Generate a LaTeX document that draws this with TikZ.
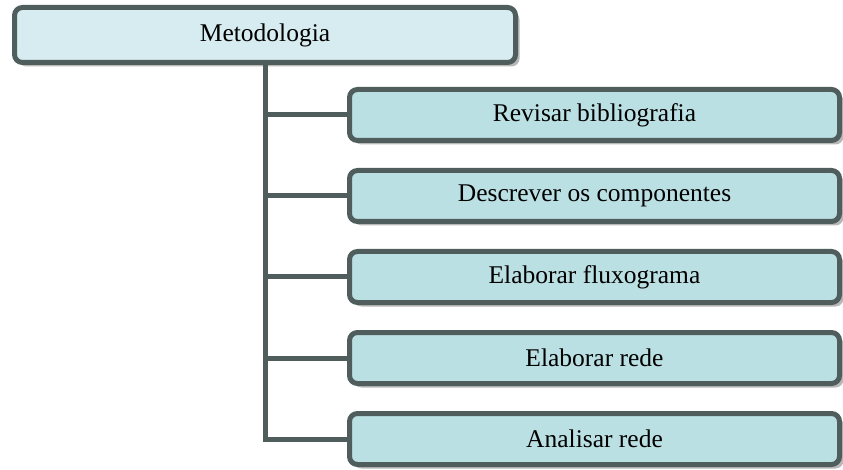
\documentclass[tikz,border=0pt]{standalone}
\usepackage{fontspec}
\setmainfont{Liberation Serif}
\usetikzlibrary{shadows}
\definecolor{bordc}{HTML}{4F5D5D}
\definecolor{topfill}{HTML}{D7ECF0}
\definecolor{kidfill}{HTML}{BBE0E3}
\tikzset{
  boxbase/.style={draw=bordc, line width=5pt, rounded corners=8pt, inner sep=0pt,
    font=\fontsize{25.5}{30}\selectfont, text=black,
    drop shadow={shadow xshift=4pt, shadow yshift=-4pt, fill=black, opacity=0.28}},
  topbox/.style={boxbase, fill=topfill, minimum width=501pt, minimum height=55pt},
  kidbox/.style={boxbase, fill=kidfill, minimum width=490pt, minimum height=51pt},
  conn/.style={draw=bordc, line width=5pt}
}
\begin{document}
\begin{tikzpicture}[x=1pt,y=-1pt]
\useasboundingbox (0,0) rectangle (843,470);
\node[topbox] (top) at (265,35) {Metodologia};
\node[kidbox] (c1) at (594.5,115) {Revisar bibliografia};
\node[kidbox] (c2) at (594.5,196) {Descrever os componentes};
\node[kidbox] (c3) at (594.5,277) {Elaborar fluxograma};
\node[kidbox] (c4) at (594.5,358) {Elaborar rede};
\node[kidbox] (c5) at (594.5,439) {Analisar rede};
\draw[conn] (top.south) |- (c5.west);
\draw[conn] (top.south |- c1.west) -- (c1.west);
\draw[conn] (top.south |- c2.west) -- (c2.west);
\draw[conn] (top.south |- c3.west) -- (c3.west);
\draw[conn] (top.south |- c4.west) -- (c4.west);
\end{tikzpicture}
\end{document}
